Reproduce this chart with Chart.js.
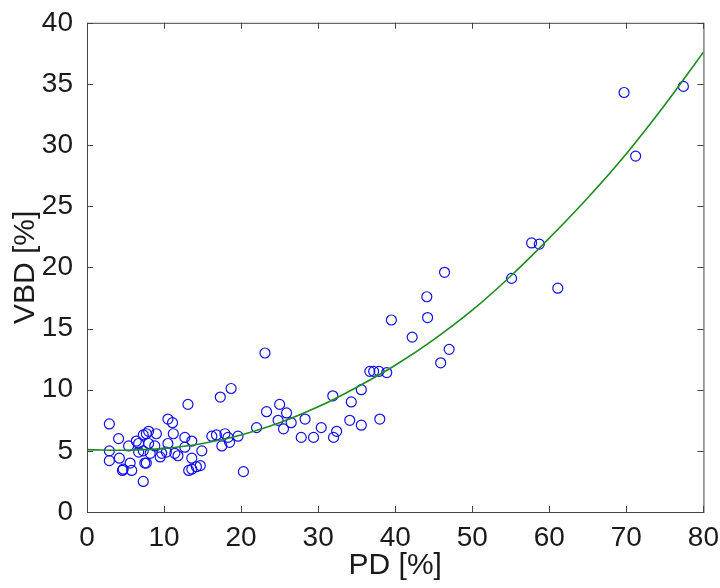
<!DOCTYPE html>
<html>
<head>
<meta charset="utf-8">
<script src="https://cdn.jsdelivr.net/npm/chart.js@4.4.1/dist/chart.umd.min.js"></script>
<style>
  html, body { margin: 0; padding: 0; background: #fff; }
  #wrap { width: 720px; height: 588px; }
</style>
</head>
<body>
<div id="wrap"><canvas id="chart"></canvas></div>
<script>
// measured points (PD %, VBD %)
const pd = [
  2.9, 4.1, 2.9, 2.9, 4.2, 4.7, 5.8, 5.4, 6.4, 6.7, 7.7, 8.0, 7.5, 7.3, 9.0, 8.8, 9.7, 9.5,
  10.5, 11.1, 11.2, 10.5, 10.3, 11.4, 11.8, 12.7, 12.7, 13.6, 13.6, 13.6, 14.2, 14.7, 14.9,
  13.1, 13.2, 5.6, 7.7, 8.2, 7.3, 8.0, 7.3, 6.7, 4.6,
  16.2, 16.8, 17.9, 17.5, 18.3, 18.5, 19.6, 17.3, 18.7, 20.3, 22.0, 23.1, 23.3, 25.0, 25.9,
  24.8, 25.5, 26.5, 28.3, 27.8, 29.4, 30.4, 31.9, 32.0, 32.4, 34.1, 34.3, 35.6, 35.6, 36.7,
  37.2, 37.9, 38.9, 38.0, 39.5, 42.2, 44.1, 44.2, 45.9, 46.4, 47.0, 55.1, 57.7, 58.7, 61.1,
  69.7, 71.2, 77.4
];
const vbd = [
  7.2, 6.0, 5.0, 4.2, 4.4, 3.5, 3.4, 5.4, 5.8, 4.9, 6.4, 5.6, 4.0, 2.5, 6.4, 5.4, 4.8, 4.5,
  7.6, 7.3, 6.4, 5.6, 4.9, 4.8, 4.6, 6.1, 5.3, 5.8, 4.4, 3.5, 3.7, 3.8, 5.0,
  8.8, 3.4, 4.0, 4.0, 4.8, 5.0, 6.6, 6.3, 5.6, 3.4,
  6.2, 6.3, 6.4, 5.4, 6.1, 5.7, 6.2, 9.4, 10.1, 3.3, 6.9, 13.0, 8.2, 8.8, 8.1,
  7.5, 6.8, 7.3, 7.6, 6.1, 6.1, 6.9, 9.5, 6.1, 6.6, 7.5, 9.0, 10.0, 7.1, 11.5,
  11.5, 11.5, 11.4, 7.6, 15.7, 14.3, 17.6, 15.9, 12.2, 19.6, 13.3, 19.1, 22.0, 21.9, 18.3,
  34.3, 29.1, 34.8
];

// fitted curve
const fitPd  = [0, 5, 10, 15, 20, 25, 30, 35, 40, 45, 50, 55, 60, 65, 70, 75, 80];
const fitVbd = [5.1, 5.05, 5.2, 5.6, 6.3, 7.3, 8.6, 10.2, 12.0, 14.1, 16.5, 19.3, 22.4, 25.7, 29.3, 33.3, 37.6];

const xTitle = "PD [%]";
const yTitle = "VBD [%]";

// MATLAB-like box with inward ticks on all four sides
const boxTicks = {
  id: "boxTicks",
  afterDraw(chart) {
    const { ctx, chartArea: a, scales } = chart;
    const len = 6;
    ctx.save();
    ctx.strokeStyle = "#444";
    ctx.lineWidth = 1;
    ctx.strokeRect(a.left + 0.5, a.top + 0.5, a.right - a.left, a.bottom - a.top);
    ctx.beginPath();
    scales.x.ticks.forEach(t => {
      const p = Math.round(scales.x.getPixelForValue(t.value)) + 0.5;
      ctx.moveTo(p, a.bottom); ctx.lineTo(p, a.bottom - len);
      ctx.moveTo(p, a.top); ctx.lineTo(p, a.top + len);
    });
    scales.y.ticks.forEach(t => {
      const p = Math.round(scales.y.getPixelForValue(t.value)) + 0.5;
      ctx.moveTo(a.left, p); ctx.lineTo(a.left + len, p);
      ctx.moveTo(a.right, p); ctx.lineTo(a.right - len, p);
    });
    ctx.stroke();
    ctx.restore();
  }
};

const tickFont = { family: "'Liberation Sans', Arial, sans-serif", size: 28 };
const titleFont = { family: "'Liberation Sans', Arial, sans-serif", size: 30 };

new Chart(document.getElementById("chart"), {
  type: "scatter",
  data: {
    datasets: [
      {
        label: "fit",
        type: "line",
        data: fitPd.map((x, i) => ({ x: x, y: fitVbd[i] })),
        borderColor: "#1f8a1f",
        borderWidth: 1.6,
        pointRadius: 0,
        tension: 0.4,
        fill: false,
        order: 0
      },
      {
        label: "data",
        data: pd.map((x, i) => ({ x: x, y: vbd[i] })),
        pointStyle: "circle",
        pointRadius: 5,
        borderWidth: 1.2,
        borderColor: "#1010ee",
        backgroundColor: "rgba(0,0,0,0)",
        order: 1
      }
    ]
  },
  options: {
    responsive: true,
    maintainAspectRatio: false,
    animation: false,
    layout: { padding: { top: 19, right: 16, left: 0, bottom: 0 } },
    plugins: { legend: { display: false }, tooltip: { enabled: false } },
    scales: {
      x: {
        type: "linear",
        min: 0,
        max: 80,
        grid: { display: false },
        border: { display: false },
        ticks: { stepSize: 10, color: "#1a1a1a", font: tickFont, padding: 1, maxRotation: 0 },
        title: { display: true, text: xTitle, color: "#1a1a1a", font: titleFont, padding: { top: 0, bottom: 4 } },
        afterFit(s) { s.height = 76; }
      },
      y: {
        type: "linear",
        min: 0,
        max: 40,
        grid: { display: false },
        border: { display: false },
        ticks: { stepSize: 5, color: "#1a1a1a", font: tickFont, padding: 6 },
        title: { display: true, text: yTitle, color: "#1a1a1a", font: titleFont, padding: { top: 8, bottom: 0 } },
        afterFit(s) { s.width = 87; }
      }
    }
  },
  plugins: [boxTicks]
});
</script>
</body>
</html>
